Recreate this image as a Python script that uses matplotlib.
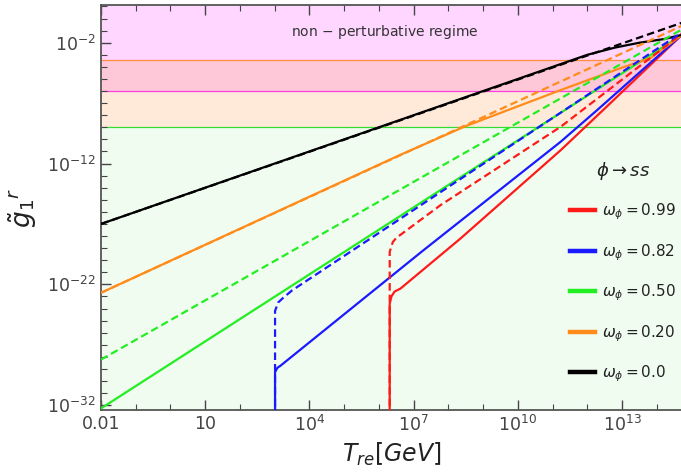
import numpy as np
import matplotlib.pyplot as plt
from matplotlib.lines import Line2D

# log10(T_re / GeV) and log10(g1^r) along each curve
t_red = [6.31, 6.31, 6.36, 6.45, 6.62, 8.35, 11.23, 12.48, 14.72]
g_red = [-34.0, -23.6, -23.0, -22.6, -22.35, -18.2, -10.9, -7.5, -1.35]
t_red_d = [6.31, 6.31, 6.4, 6.5, 6.62, 7.77, 11.23, 14.72]
g_red_d = [-34.0, -19.3, -18.5, -18.15, -17.9, -15.45, -8.96, -1.25]

t_blue = [3.01, 3.01, 3.08, 3.16, 7.28, 11.23, 12.28, 14.72]
g_blue = [-34.0, -29.26, -28.9, -28.75, -19.18, -10.2, -7.58, -1.35]
t_blue_d = [3.01, 3.01, 3.1, 3.25, 3.5, 14.72]
g_blue_d = [-34.0, -24.2, -23.5, -23.1, -22.5, -1.15]

t_green = [-2.0, 14.72]
g_green = [-32.27, -1.35]
t_green_d = [-2.0, 14.72]
g_green_d = [-28.23, -0.9]

t_orange = [-2.0, 6.6, 8.5, 11.23, 12.96, 13.82, 14.72]
g_orange = [-22.7, -11.3, -8.9, -5.92, -4.1, -3.27, -1.35]
t_orange_d = [-2.0, 14.72]
g_orange_d = [-22.7, -0.6]

t_black = [-2.0, 11.2, 12.0, 12.8, 13.5, 14.2, 14.72]
g_black = [-17.0, -3.8, -3.0, -2.4, -2.0, -1.7, -1.35]
t_black_d = [-2.0, 14.72]
g_black_d = [-17.0, -0.35]

# constraint levels (log10 g)
lvl_orange = -3.4
lvl_pink = -6.0
lvl_green = -9.0

omegas = ['0.99', '0.82', '0.50', '0.20', '0.0']
colors = ['#ff1a1a', '#1a1aff', '#22ee22', '#ff8c1a', 'black']

xticks = [-2, 1, 4, 7, 10, 13]
xlabels = ['0.01', '10', '$10^{4}$', '$10^{7}$', '$10^{10}$', '$10^{13}$']
yticks = [-2, -12, -22, -32]
ylabels = ['$10^{-2}$', '$10^{-12}$', '$10^{-22}$', '$10^{-32}$']

xmin, xmax = -2.0, 14.72
ymin, ymax = -32.4, 1.12

fig = plt.figure(figsize=(6.81, 4.73), dpi=100)
ax = fig.add_axes([0.1483, 0.1332, 0.8530, 0.8562])
ax.set_xscale('log')
ax.set_yscale('log')
ax.set_xlim(10**xmin, 10**xmax)
ax.set_ylim(10**ymin, 10**ymax)

# shaded regions
ax.axhspan(10**lvl_orange, 10**ymax, color='#ffd6ff', lw=0, zorder=0)
ax.axhspan(10**lvl_pink, 10**lvl_orange, color='#ffc8d8', lw=0, zorder=0)
ax.axhspan(10**lvl_green, 10**lvl_pink, color='#ffe9d9', lw=0, zorder=0)
ax.axhspan(10**ymin, 10**lvl_green, color='#f1fcf1', lw=0, zorder=0)
ax.axhline(10**lvl_orange, color='#ff8c40', lw=0.9, zorder=1)
ax.axhline(10**lvl_pink, color='#ff40e0', lw=0.9, zorder=1)
ax.axhline(10**lvl_green, color='#33dd33', lw=0.9, zorder=1)

solid = [(t_red, g_red), (t_blue, g_blue), (t_green, g_green),
         (t_orange, g_orange), (t_black, g_black)]
dashed = [(t_red_d, g_red_d), (t_blue_d, g_blue_d), (t_green_d, g_green_d),
          (t_orange_d, g_orange_d), (t_black_d, g_black_d)]

lw = 1.6
for (t, g), c in zip(solid, colors):
    ax.plot(10**np.array(t), 10**np.array(g), color=c, lw=lw, zorder=3)
for (t, g), c in zip(dashed, colors):
    ax.plot(10**np.array(t), 10**np.array(g), color=c, lw=lw,
            dashes=(3.4, 1.8), zorder=4)

ax.text(10**6.18, 10**-1.1, 'non $-$ perturbative regime', fontsize=10,
        color='#333333', ha='center', va='center')

# ticks: every decade, labelled every third / tenth
ax.xaxis.set_major_locator(plt.FixedLocator([10.0**v for v in xticks]))
ax.xaxis.set_major_formatter(plt.FixedFormatter(xlabels))
ax.xaxis.set_minor_locator(plt.FixedLocator([10.0**v for v in range(-2, 15)]))
ax.xaxis.set_minor_formatter(plt.NullFormatter())
ax.yaxis.set_major_locator(plt.FixedLocator([10.0**v for v in yticks]))
ax.yaxis.set_major_formatter(plt.FixedFormatter(ylabels))
ax.yaxis.set_minor_locator(plt.FixedLocator([10.0**v for v in range(-32, 2)]))
ax.yaxis.set_minor_formatter(plt.NullFormatter())
ax.tick_params(which='both', direction='in', top=True, right=False,
               color='#444444', labelcolor='#444444', labelsize=12.5)
ax.tick_params(which='major', length=7, width=1)
ax.tick_params(which='minor', length=4, width=0.8)
for s in ['left', 'bottom', 'top']:
    ax.spines[s].set_color('#555555')
    ax.spines[s].set_linewidth(1.3)
ax.spines['right'].set_visible(False)

ax.set_xlabel(r'$T_{re}[GeV]$', fontsize=17, color='#222222', labelpad=4)
ax.set_ylabel(r'$\tilde{g}_1{}^{r}$', fontsize=19, color='#222222', labelpad=6)

handles = [Line2D([], [], color=c, lw=3.2) for c in colors]
labels = [r'$\omega_\phi = $' + w for w in omegas]
leg = ax.legend(handles, labels, title=r'$\phi \rightarrow ss$', frameon=False,
                loc='upper left', bbox_to_anchor=(0.792, 0.64), fontsize=11,
                title_fontsize=13, handlelength=1.6, handletextpad=0.45,
                labelspacing=1.3, borderaxespad=0.2)
leg.get_title().set_color('#222222')
for txt in leg.get_texts():
    txt.set_color('#222222')

fig.savefig('out.png', dpi=100)
